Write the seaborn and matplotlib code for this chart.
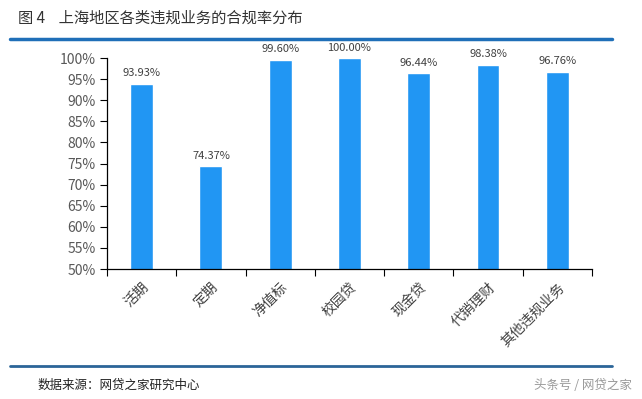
import pandas as pd
import matplotlib.pyplot as plt
import seaborn as sns
import numpy as np

categories = ["活期", "定期", "净值标", "校园贷", "现金贷", "代销理财", "其他违规业务"]
rates = [93.93, 74.37, 99.60, 100.00, 96.44, 98.38, 96.76]
y_ticks = [50, 55, 60, 65, 70, 75, 80, 85, 90, 95, 100]

df = pd.DataFrame({"业务": categories, "合规率": rates})

sns.set_theme(style="white")
plt.rcParams['font.family'] = ['Noto Sans CJK SC', 'DejaVu Sans']

fig = plt.figure(figsize=(6.42, 3.99), dpi=100)
ax = fig.add_axes([0.1667, 0.3258, 0.7553, 0.5288])

sns.barplot(data=df, x="业务", y="合规率", color="#2196f3", width=0.33,
            saturation=1, ax=ax)

ax.set_ylim(50, 100)
ax.set_xlim(-0.5, len(categories) - 0.5)
ax.set_yticks(y_ticks)
ax.set_yticklabels([f"{v}%" for v in y_ticks], fontsize=10, color="#595959")
ax.set_xticks(range(len(categories)))
ax.set_xticklabels(categories, rotation=45, ha="right", rotation_mode="anchor",
                   fontsize=10, color="#404040")
ax.set_xticks(np.arange(-0.5, len(categories), 1), minor=True)
ax.tick_params(axis="x", which="major", length=0, pad=8)
ax.tick_params(axis="x", which="minor", length=5, width=0.8, color="black",
               direction="out", bottom=True)
ax.tick_params(axis="y", length=5, width=0.8, color="black", direction="out",
               left=True, pad=3)
ax.set_xlabel("")
ax.set_ylabel("")

for s in ["top", "right"]:
    ax.spines[s].set_visible(False)
for s in ["left", "bottom"]:
    ax.spines[s].set_color("black")
    ax.spines[s].set_linewidth(0.9)

for i, v in enumerate(rates):
    ax.text(i, v + 1.3, f"{v:.2f}%", ha="center", va="bottom", fontsize=8,
            color="#404040")

fig.text(0.028, 0.955, "图 4    上海地区各类违规业务的合规率分布", fontsize=11,
         color="#333333", va="center", ha="left")
fig.add_artist(plt.Line2D([0.016, 0.953], [0.902, 0.902], color="#1f6fb8",
                          linewidth=2.5))
fig.add_artist(plt.Line2D([0.016, 0.953], [0.083, 0.083], color="#2b6598",
                          linewidth=2))
fig.text(0.058, 0.035, "数据来源：网贷之家研究中心", fontsize=9,
         color="#222222", va="center", ha="left")
fig.text(0.985, 0.035, "头条号 / 网贷之家", fontsize=9, color="#999999",
         va="center", ha="right")

fig.savefig("out.png", dpi=100)
